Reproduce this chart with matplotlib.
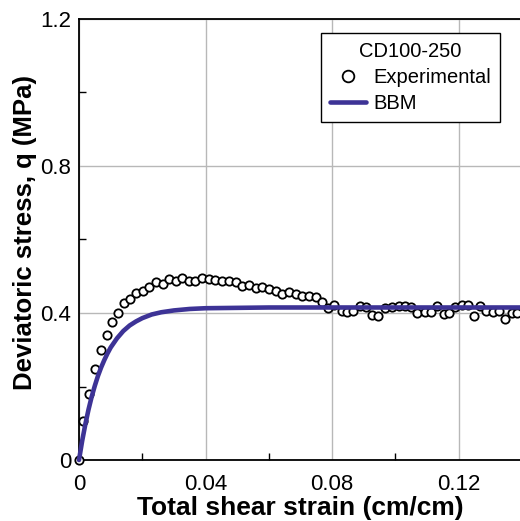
import numpy as np
import matplotlib
matplotlib.use('Agg')
import matplotlib.pyplot as plt
from matplotlib.ticker import MultipleLocator

plt.rcParams['font.family'] = ['Liberation Sans', 'DejaVu Sans']

# experimental points
exp_strain = [0.0, 0.0012, 0.0031, 0.0050, 0.0070, 0.0088, 0.0105, 0.0124, 0.0143, 0.0162,
              0.0181, 0.0201, 0.0222, 0.0243, 0.0264, 0.0285, 0.0305, 0.0326, 0.0347, 0.0367,
              0.0389, 0.0410, 0.0431, 0.0452, 0.0473, 0.0495, 0.0515, 0.0536, 0.0558, 0.0579,
              0.0600, 0.0621, 0.0643, 0.0664, 0.0685, 0.0706, 0.0727, 0.0748, 0.0768, 0.0788,
              0.0806, 0.0831, 0.0848, 0.0867, 0.0889, 0.0907, 0.0925, 0.0946, 0.0968, 0.0989,
              0.1010, 0.1031, 0.1048, 0.1068, 0.1094, 0.1113, 0.1131, 0.1152, 0.1168, 0.1189,
              0.1210, 0.1229, 0.1249, 0.1268, 0.1286, 0.1307, 0.1326, 0.1347, 0.1368, 0.1384]
exp_q = [0.0, 0.107, 0.180, 0.248, 0.298, 0.340, 0.376, 0.399, 0.427, 0.439,
         0.454, 0.461, 0.472, 0.484, 0.480, 0.493, 0.487, 0.496, 0.486, 0.486,
         0.494, 0.492, 0.490, 0.488, 0.487, 0.484, 0.473, 0.477, 0.467, 0.470,
         0.464, 0.461, 0.452, 0.456, 0.451, 0.447, 0.445, 0.443, 0.430, 0.413,
         0.421, 0.405, 0.404, 0.405, 0.420, 0.417, 0.395, 0.393, 0.413, 0.417,
         0.418, 0.418, 0.415, 0.399, 0.402, 0.404, 0.419, 0.396, 0.399, 0.417,
         0.422, 0.422, 0.393, 0.419, 0.406, 0.404, 0.405, 0.383, 0.399, 0.401]

# BBM model curve
bbm_strain = [0.0, 0.001, 0.002, 0.003, 0.004, 0.005, 0.006, 0.007, 0.008, 0.009,
              0.010, 0.012, 0.014, 0.016, 0.018, 0.020, 0.023, 0.026, 0.030, 0.035,
              0.040, 0.050, 0.060, 0.080, 0.100, 0.120, 0.140]
bbm_q = [0.0, 0.052, 0.097, 0.137, 0.172, 0.202, 0.229, 0.252, 0.272, 0.290,
         0.306, 0.331, 0.351, 0.366, 0.377, 0.386, 0.396, 0.402, 0.407, 0.411,
         0.413, 0.414, 0.415, 0.415, 0.415, 0.415, 0.415]

fig = plt.figure(figsize=(5.2, 5.21), dpi=100)
ax = fig.add_axes([79 / 520, 61 / 521, 443 / 520, 441 / 521])

ax.plot(exp_strain, exp_q, 'o', mfc='white', mec='black', mew=1.3, ms=6,
        label='Experimental', zorder=3, clip_on=False)
ax.plot(bbm_strain, bbm_q, '-', color='#3d3396', lw=3.3, label='BBM', zorder=4,
        solid_capstyle='round', clip_on=False)

ax.set_xlim(0, 0.14)
ax.set_ylim(0, 1.2)
ax.xaxis.set_minor_locator(MultipleLocator(0.02))
ax.yaxis.set_minor_locator(MultipleLocator(0.2))
ax.set_xticks([0, 0.04, 0.08, 0.12])
ax.set_xticklabels(['0', '0.04', '0.08', '0.12'])
ax.set_yticks([0, 0.4, 0.8, 1.2])
ax.set_yticklabels(['0', '0.4', '0.8', '1.2'])

ax.grid(True, which='major', color='#b8b8b8', lw=1.0)
ax.set_axisbelow(True)
ax.tick_params(which='major', direction='in', length=0, labelsize=16)
ax.tick_params(axis='x', which='major', pad=10)
ax.tick_params(axis='y', which='major', pad=5.5)
ax.tick_params(which='minor', direction='in', length=5, width=1)
for s in ax.spines.values():
    s.set_linewidth(1.3)

ax.set_xlabel('Total shear strain (cm/cm)', fontsize=19, fontweight='bold', labelpad=1)
ax.set_ylabel('Deviatoric stress, q (MPa)', fontsize=18.5, fontweight='bold')
ax.yaxis.set_label_coords(-0.095, 0.515)

leg = ax.legend(title='CD100-250', loc='upper left', bbox_to_anchor=(321 / 520, 1 - 33 / 521),
                bbox_transform=fig.transFigure, borderaxespad=0, fontsize=14.5, title_fontsize=14.5,
                fancybox=False, edgecolor='black', framealpha=1, handlelength=1.8,
                handletextpad=0.35, borderpad=0.45, labelspacing=0.35, markerscale=1.4)
leg.get_frame().set_linewidth(1.0)

fig.savefig('out.png', dpi=100)
